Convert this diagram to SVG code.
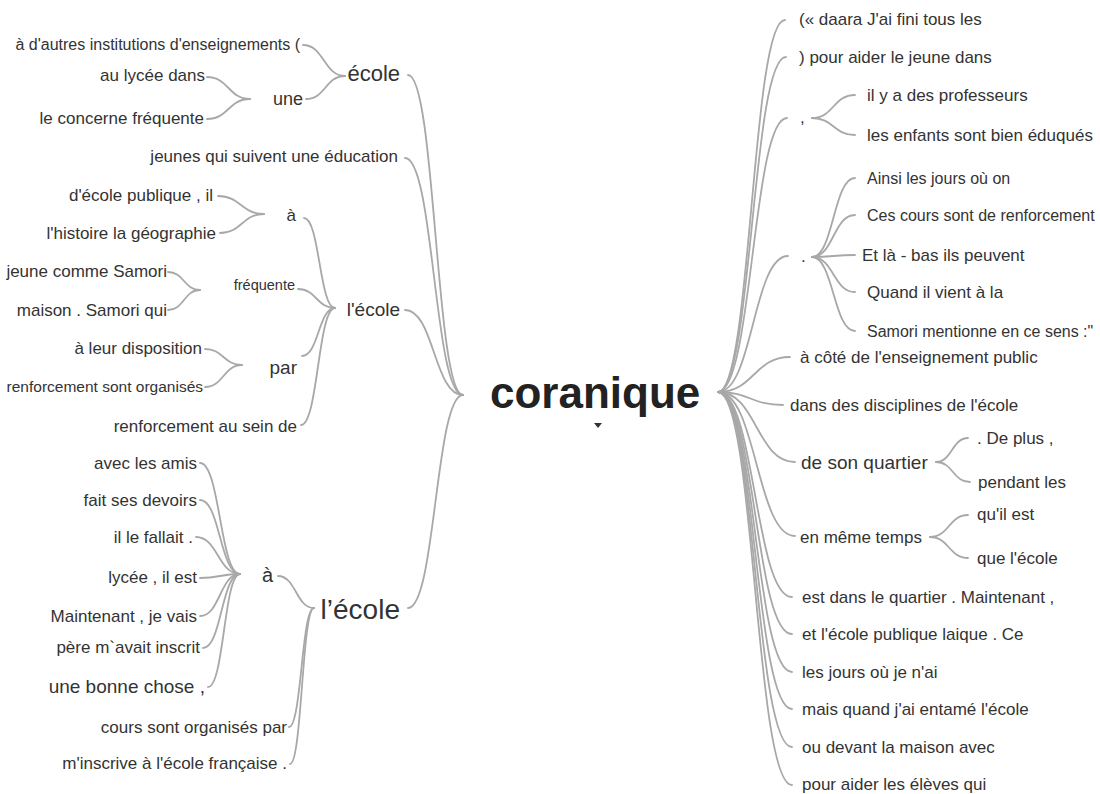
<svg xmlns="http://www.w3.org/2000/svg" width="1100" height="794" viewBox="0 0 1100 794">
  <style>
    text { font-family: "Liberation Sans", Arial, sans-serif; fill: #333; font-size: 17px; }
    .l { text-anchor: end; }
    .r { text-anchor: start; }
    .root { font-size: 44px; font-weight: bold; fill: #222; }
    #links path { fill: none; stroke: #a8a8a8; stroke-width: 1.8; stroke-linecap: round; }
  </style>
  <rect width="1100" height="794" fill="#fff"/>

  <!-- connectors: cubic links, horizontal tangents at both ends -->
  <g id="links">
    <!-- left of root -->
    <path d="M463,395 C435.5,395 435.5,75 408,75"/>
    <path d="M463,395 C434,395 434,158 405,158"/>
    <path d="M463,395 C434,395 434,310 405,310"/>
    <path d="M463,395 C435.5,395 435.5,608 408,608"/>
    <!-- école -->
    <path d="M345,76 C324,76 324,45 303,45"/>
    <path d="M345,76 C325.5,76 325.5,99 306,99"/>
    <!-- une -->
    <path d="M250,99 C228.5,99 228.5,77 207,77"/>
    <path d="M250,99 C228.5,99 228.5,119 207,119"/>
    <!-- l'école (middle) -->
    <path d="M335,308 C319.5,308 319.5,218 304,218"/>
    <path d="M335,308 C316.5,308 316.5,289 298,289"/>
    <path d="M335,308 C318.5,308 318.5,356 302,356"/>
    <path d="M335,308 C318,308 318,425 301,425"/>
    <!-- à -->
    <path d="M264,214 C241,214 241,196 218,196"/>
    <path d="M264,214 C242,214 242,233 220,233"/>
    <!-- fréquente -->
    <path d="M200,290 C184,290 184,272 168,272"/>
    <path d="M200,290 C184,290 184,310 168,310"/>
    <!-- par -->
    <path d="M242,365 C223.5,365 223.5,349 205,349"/>
    <path d="M242,365 C223.5,365 223.5,387 205,387"/>
    <!-- l'école (bottom) -->
    <path d="M314,608 C296,608 296,576 278,576"/>
    <path d="M314,608 C301.5,608 301.5,727 289,727"/>
    <path d="M314,608 C302,608 302,764 290,764"/>
    <!-- à (bottom) -->
    <path d="M240,574 C220,574 220,463 200,463"/>
    <path d="M240,574 C220,574 220,500 200,500"/>
    <path d="M240,574 C218,574 218,537 196,537"/>
    <path d="M240,574 C220,574 220,578 200,578"/>
    <path d="M240,574 C220,574 220,616 200,616"/>
    <path d="M240,574 C221.5,574 221.5,648 203,648"/>
    <path d="M240,574 C224,574 224,687 208,687"/>

    <!-- right of root -->
    <path d="M718,392 C751.5,392 751.5,20 785,20"/>
    <path d="M718,392 C752,392 752,57 786,57"/>
    <path d="M718,392 C752.5,392 752.5,118 787,118"/>
    <path d="M718,392 C753,392 753,256 788,256"/>
    <path d="M718,392 C754,392 754,357 790,357"/>
    <path d="M718,392 C750.5,392 750.5,405 783,405"/>
    <path d="M718,392 C756.5,392 756.5,462 795,462"/>
    <path d="M718,392 C756.5,392 756.5,536 795,536"/>
    <path d="M718,392 C755,392 755,597 792,597"/>
    <path d="M718,392 C755,392 755,634 792,634"/>
    <path d="M718,392 C755,392 755,672 792,672"/>
    <path d="M718,392 C755,392 755,709 792,709"/>
    <path d="M718,392 C755,392 755,747 792,747"/>
    <path d="M718,392 C755,392 755,785 792,785"/>
    <!-- , -->
    <path d="M812,118 C833.5,118 833.5,95 855,95"/>
    <path d="M812,118 C833.5,118 833.5,135 855,135"/>
    <!-- . -->
    <path d="M812,257 C833.5,257 833.5,178 855,178"/>
    <path d="M812,257 C833.5,257 833.5,215 855,215"/>
    <path d="M812,257 C833.5,257 833.5,255 855,255"/>
    <path d="M812,257 C833.5,257 833.5,292 855,292"/>
    <path d="M812,257 C833.5,257 833.5,331 855,331"/>
    <!-- de son quartier -->
    <path d="M936,462 C952,462 952,438 968,438"/>
    <path d="M936,462 C953,462 953,482 970,482"/>
    <!-- en même temps -->
    <path d="M930,537 C949,537 949,515 968,515"/>
    <path d="M930,537 C949,537 949,558 968,558"/>
  </g>

  <!-- root -->
  <g id="n-coranique">
    <text class="root" x="490" y="408">coranique</text>
    <path d="M594,423 L602,423 L598,428 Z" fill="#333"/>
  </g>

  <!-- left branches -->
  <g id="n-ecole"><text class="l" x="400" y="81" style="font-size:22px">école</text></g>
  <g id="n-ecole-1"><text class="l" x="300" y="50" style="font-size:16px">à d'autres institutions d'enseignements (</text></g>
  <g id="n-une"><text class="l" x="303" y="105" style="font-size:18px">une</text></g>
  <g id="n-une-1"><text class="l" x="205" y="81">au lycée dans</text></g>
  <g id="n-une-2"><text class="l" x="204" y="124">le concerne fréquente</text></g>
  <g id="n-jeunes"><text class="l" x="398" y="162">jeunes qui suivent une éducation</text></g>

  <g id="n-lecole-m"><text class="l" x="400" y="316" style="font-size:19px">l'école</text></g>
  <g id="n-a-m"><text class="l" x="296" y="221">à</text></g>
  <g id="n-a-m-1"><text class="l" x="213" y="201">d'école publique , il</text></g>
  <g id="n-a-m-2"><text class="l" x="216" y="239">l'histoire la géographie</text></g>
  <g id="n-frequente"><text class="l" x="295" y="290" style="font-size:14.5px">fréquente</text></g>
  <g id="n-frequente-1"><text class="l" x="167" y="277">jeune comme Samori</text></g>
  <g id="n-frequente-2"><text class="l" x="167" y="316">maison . Samori qui</text></g>
  <g id="n-par"><text class="l" x="297" y="374" style="font-size:19px">par</text></g>
  <g id="n-par-1"><text class="l" x="202" y="354">à leur disposition</text></g>
  <g id="n-par-2"><text class="l" x="203" y="392" style="font-size:15.5px">renforcement sont organisés</text></g>
  <g id="n-renfo"><text class="l" x="297" y="432">renforcement au sein de</text></g>

  <g id="n-lecole-b"><text class="l" x="400" y="619" style="font-size:28px">l’école</text></g>
  <g id="n-a-b"><text class="l" x="273" y="582" style="font-size:20px">à</text></g>
  <g id="n-a-b-1"><text class="l" x="197" y="469">avec les amis</text></g>
  <g id="n-a-b-2"><text class="l" x="197" y="506">fait ses devoirs</text></g>
  <g id="n-a-b-3"><text class="l" x="193" y="543">il le fallait .</text></g>
  <g id="n-a-b-4"><text class="l" x="197" y="583">lycée , il est</text></g>
  <g id="n-a-b-5"><text class="l" x="197" y="622">Maintenant , je vais</text></g>
  <g id="n-a-b-6"><text class="l" x="200" y="653">père m`avait inscrit</text></g>
  <g id="n-a-b-7"><text class="l" x="205" y="693" style="font-size:19px">une bonne chose ,</text></g>
  <g id="n-cours"><text class="l" x="287" y="733">cours sont organisés par</text></g>
  <g id="n-minscrive"><text class="l" x="287" y="769">m'inscrive à l'école française .</text></g>

  <!-- right branches -->
  <g id="n-daara"><text class="r" x="799" y="25">(« daara J'ai fini tous les</text></g>
  <g id="n-pour-jeune"><text class="r" x="799" y="63">) pour aider le jeune dans</text></g>
  <g id="n-comma"><text class="r" x="800" y="123">,</text></g>
  <g id="n-comma-1"><text class="r" x="867" y="101">il y a des professeurs</text></g>
  <g id="n-comma-2"><text class="r" x="867" y="141">les enfants sont bien éduqués</text></g>
  <g id="n-dot"><text class="r" x="801" y="262">.</text></g>
  <g id="n-dot-1"><text class="r" x="867" y="184" style="font-size:16px">Ainsi les jours où on</text></g>
  <g id="n-dot-2"><text class="r" x="867" y="221" style="font-size:16px">Ces cours sont de renforcement</text></g>
  <g id="n-dot-3"><text class="r" x="862" y="261">Et là - bas ils peuvent</text></g>
  <g id="n-dot-4"><text class="r" x="867" y="298">Quand il vient à la</text></g>
  <g id="n-dot-5"><text class="r" x="867" y="337" style="font-size:16px">Samori mentionne en ce sens :"</text></g>
  <g id="n-cote"><text class="r" x="800" y="363">à côté de l'enseignement public</text></g>
  <g id="n-dans"><text class="r" x="790" y="411">dans des disciplines de l'école</text></g>
  <g id="n-quartier"><text class="r" x="801" y="469" style="font-size:19px">de son quartier</text></g>
  <g id="n-quartier-1"><text class="r" x="977" y="444">. De plus ,</text></g>
  <g id="n-quartier-2"><text class="r" x="978" y="488">pendant les</text></g>
  <g id="n-temps"><text class="r" x="800" y="543">en même temps</text></g>
  <g id="n-temps-1"><text class="r" x="977" y="520">qu'il est</text></g>
  <g id="n-temps-2"><text class="r" x="977" y="564">que l'école</text></g>
  <g id="n-est"><text class="r" x="802" y="603">est dans le quartier . Maintenant ,</text></g>
  <g id="n-laique"><text class="r" x="802" y="640">et l'école publique laique . Ce</text></g>
  <g id="n-jours"><text class="r" x="802" y="678">les jours où je n'ai</text></g>
  <g id="n-mais"><text class="r" x="802" y="715">mais quand j'ai entamé l'école</text></g>
  <g id="n-devant"><text class="r" x="802" y="753">ou devant la maison avec</text></g>
  <g id="n-eleves"><text class="r" x="802" y="790">pour aider les élèves qui</text></g>
</svg>
